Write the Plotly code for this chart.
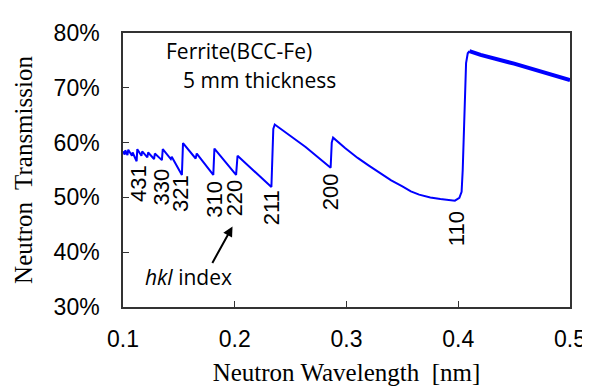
import plotly.graph_objects as go

# Neutron transmission spectrum of ferrite
wavelength_nm = [
    0.1000, 0.1015, 0.1020, 0.1040, 0.1047, 0.1080, 0.1086, 0.1122, 0.1128,
    0.1165, 0.1172, 0.1218, 0.1225, 0.1278, 0.1285, 0.1348, 0.1356, 0.1428,
    0.1436, 0.1527, 0.1537, 0.1650, 0.1660, 0.1808, 0.1818, 0.2012, 0.2025,
    0.2328, 0.2345, 0.2358, 0.2634, 0.2858, 0.2868, 0.2880, 0.2987, 0.3100,
    0.3200, 0.3300, 0.3400, 0.3500, 0.3576, 0.3650, 0.3750, 0.3840, 0.3900,
    0.3970, 0.4010, 0.4030, 0.4040, 0.4050, 0.4060, 0.4070, 0.4085, 0.4100,
    0.4200, 0.4500, 0.5000,
]
transmission_pct = [
    58.4, 57.8, 58.6, 57.7, 58.7, 57.6, 58.2, 56.6, 58.8,
    57.6, 58.4, 57.3, 58.2, 57.0, 58.0, 56.8, 58.8, 57.0,
    57.4, 54.1, 59.9, 57.1, 58.0, 54.1, 58.9, 54.1, 57.6,
    51.9, 62.5, 63.3, 59.2, 55.4, 60.0, 60.9, 59.0, 57.2,
    55.8, 54.4, 53.1, 52.0, 51.1, 50.5, 50.0, 49.7, 49.5,
    49.4, 49.9, 51.0, 55.0, 63.0, 70.0, 74.5, 76.3, 76.7,
    76.0, 74.4, 71.4,
]

hkl_labels = ["431", "330", "321", "310", "220", "211", "200", "110"]
hkl_label_x = [0.1133, 0.1349, 0.1510, 0.1812, 0.2006, 0.2324, 0.2852, 0.3980]
hkl_label_y = [52.6, 51.8, 50.8, 49.7, 49.9, 48.2, 51.1, 44.2]

x_ticks = [0.1, 0.2, 0.3, 0.4, 0.5]
x_tick_text = ["0.1", "0.2", "0.3", "0.4", "0.5"]
y_ticks = [30, 40, 50, 60, 70, 80]
y_tick_text = ["30%", "40%", "50%", "60%", "70%", "80%"]

split = wavelength_nm.index(0.4100)

fig = go.Figure()
fig.add_trace(go.Scatter(
    x=wavelength_nm[:split + 1], y=transmission_pct[:split + 1],
    mode="lines", line=dict(color="#0000ff", width=2), showlegend=False,
))
fig.add_trace(go.Scatter(
    x=wavelength_nm[split:], y=transmission_pct[split:],
    mode="lines", line=dict(color="#0000ff", width=4), showlegend=False,
))

label_font = dict(family="Liberation Sans, Arial, sans-serif", size=22, color="black")
tick_font = dict(family="Liberation Sans, Arial, sans-serif", size=23, color="black")
text_font = dict(family="Open Sans, sans-serif", size=21, color="black")
title_font = dict(family="Liberation Serif, Times New Roman, serif", size=25, color="black")

annotations = []
for lab, lx, ly in zip(hkl_labels, hkl_label_x, hkl_label_y):
    annotations.append(dict(x=lx, y=ly, xref="x", yref="y", text=lab,
                            textangle=-90, showarrow=False, font=label_font))

annotations += [
    dict(x=0.1370, y=76.8, xref="x", yref="y", text="Ferrite(BCC-Fe)",
         xanchor="left", showarrow=False, font=text_font),
    dict(x=0.1518, y=71.5, xref="x", yref="y", text="5 mm thickness",
         xanchor="left", showarrow=False, font=text_font),
    dict(x=0.1585, y=35.4, xref="x", yref="y", text="<i>hkl</i> index",
         showarrow=False, font=text_font),
    dict(x=0.198, y=44.7, xref="x", yref="y", text="", showarrow=True,
         ax=-21, ay=38, arrowhead=2, arrowsize=1, arrowwidth=2, arrowcolor="black"),
]

fig.update_layout(
    width=590, height=386,
    margin=dict(l=115, r=22, t=21, b=79),
    paper_bgcolor="white", plot_bgcolor="white",
    annotations=annotations,
    xaxis=dict(
        range=[0.1, 0.5], tickvals=x_ticks, ticktext=x_tick_text,
        ticks="inside", ticklen=6, tickcolor="#333", showgrid=False, zeroline=False,
        showline=True, linecolor="#333", linewidth=1.5, mirror=True,
        tickfont=tick_font, ticklabelstandoff=11,
        title=dict(text="Neutron Wavelength\u00a0\u00a0[nm]", standoff=12, font=title_font),
    ),
    yaxis=dict(
        range=[30, 80], tickvals=y_ticks, ticktext=y_tick_text,
        ticks="inside", ticklen=6, tickcolor="#333", showgrid=False, zeroline=False,
        showline=True, linecolor="#333", linewidth=1.5, mirror=True,
        tickfont=tick_font, ticklabelstandoff=17,
        title=dict(text="Neutron\u00a0 Transmission", standoff=14, font=title_font),
    ),
)

fig.write_html("out.html")
